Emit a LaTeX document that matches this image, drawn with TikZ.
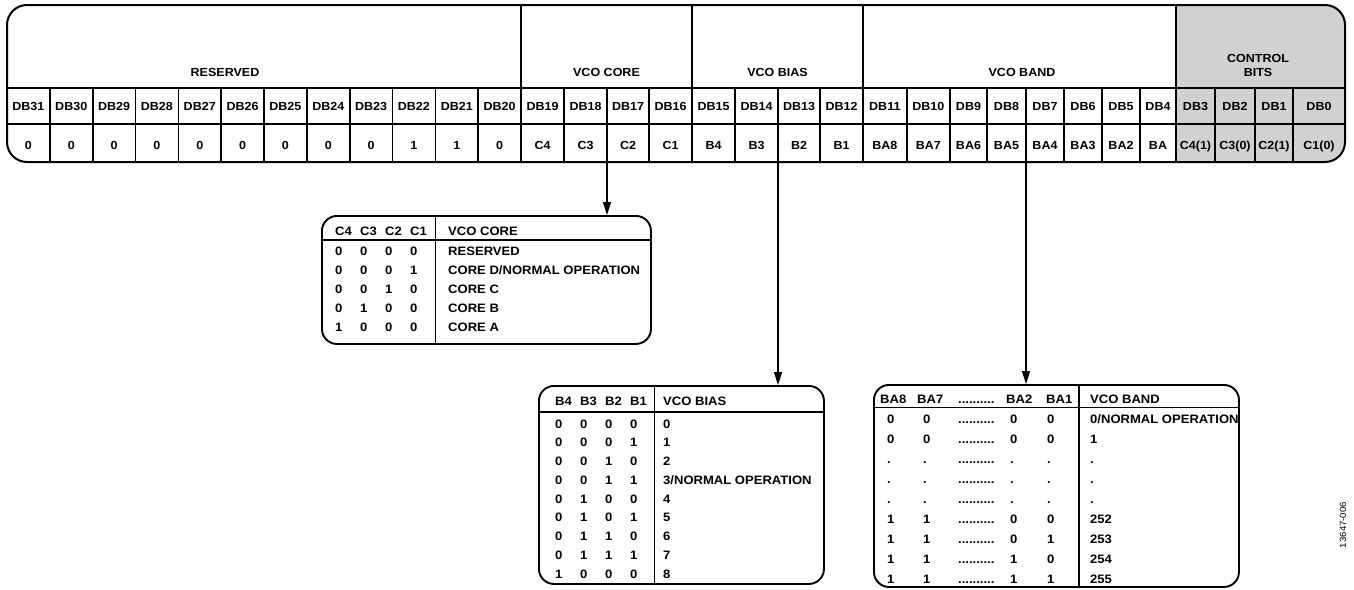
\documentclass[tikz,border=0pt]{standalone}
\usepackage{fontspec}
\setmainfont{Liberation Sans}[FakeStretch=1.07]
\usepackage{xcolor}
\usepackage{tikz}
\usetikzlibrary{arrows.meta}
\definecolor{ctrlgray}{HTML}{D1D1D1}
\tikzset{
  regline/.style={draw=black, line width=1.6pt},
  tabline/.style={draw=black, line width=1.6pt},
  bitlab/.style={font=\fontsize{11.7}{14}\selectfont\bfseries, inner sep=0pt, text height=8.4pt, text depth=0pt},
  rowlab/.style={bitlab, font=\fontsize{12.2}{14}\selectfont\bfseries, anchor=west},
  tabbox/.style={draw=black, line width=1.9pt, rounded corners=15pt, inner sep=0pt, anchor=north west},
  feed/.style={draw=black, line width=1.6pt, -{Triangle[length=13pt,width=8pt]}},
  docnum/.style={font=\fontsize{9}{10}\selectfont, inner sep=0pt, rotate=90},
}

\begin{document}
\begin{tikzpicture}[x=1pt,y=-1pt]
\useasboundingbox (0,0) rectangle (1354,589);

% register, DB31 ... DB0
\begin{scope}
\clip[rounded corners=20pt] (7,5) rectangle (1345,162);
\fill[ctrlgray] (1176,5) rectangle (1345,162);
\end{scope}
\draw[regline] (7,88) -- (1345,88);
\draw[regline] (7,124) -- (1345,124);
\foreach \xa/\xb/\b/\v in {7/49.8/31/0, 49.8/92.7/30/0, 92.7/135.5/29/0, 135.5/178.3/28/0,
    178.3/221.2/27/0, 221.2/264/26/0, 264/306.8/25/0, 306.8/349.7/24/0, 349.7/392.5/23/0,
    392.5/435.3/22/1, 435.3/478.2/21/1, 478.2/521/20/0,
    521/564/19/C4, 564/607/18/C3, 607/649/17/C2, 649/692/16/C1,
    692/735/15/B4, 735/778/14/B3, 778/820/13/B2, 820/863/12/B1,
    863/906.7/11/BA8, 906.7/950/10/BA7, 950/987/9/BA6, 987/1026/8/BA5,
    1026/1064/7/BA4, 1064/1102/6/BA3, 1102/1140/5/BA2, 1140/1176/4/BA,
    1176/1215/3/{C4(1)}, 1215/1255/2/{C3(0)}, 1255/1293/1/{C2(1)}, 1293/1345/0/{C1(0)}} {
  \ifnum\b<31 \draw[regline] (\xa,88) -- (\xa,162); \fi
  \node[bitlab] (db\b) at ({(\xa+\xb)/2},106) {DB\b};
  \node[bitlab] (bit\b) at ({(\xa+\xb)/2},145) {\v};
}
\foreach \x in {521,692,863,1176} \draw[regline] (\x,5) -- (\x,88);
\draw[regline, line width=2pt, rounded corners=20pt] (7,5) rectangle (1345,162);

\node[bitlab] (resv) at (225,72) {RESERVED};
\node[bitlab] (core) at (606.5,72) {VCO CORE};
\node[bitlab] (bias) at (777.5,72) {VCO BIAS};
\node[bitlab] (band) at (1022,72) {VCO BAND};
\node[bitlab] (ctrla) at (1258,58) {CONTROL};
\node[bitlab] (ctrlb) at (1258,72.5) {BITS};

% VCO CORE table
\node[tabbox, minimum width=329pt, minimum height=128pt] (coretab) at (321,215) {};
\draw[tabline] (321,240) -- (650,240);
\draw[tabline] (435.3,215) -- (435.3,343);
\foreach \h [count=\i] in {C4,C3,C2,C1}
  \node[rowlab] (corehd\i) at ({335+25*(\i-1)},231) {\h};
\node[rowlab] (corehd) at (448,231) {VCO CORE};
\foreach \a/\b/\c/\d/\t [count=\r] in {0/0/0/0/RESERVED, 0/0/0/1/{CORE D/NORMAL OPERATION},
    0/0/1/0/CORE C, 0/1/0/0/CORE B, 1/0/0/0/CORE A} {
  \node[rowlab] (core\r-a) at (335,{251.3+18.9*(\r-1)}) {\a};
  \node[rowlab] (core\r-b) at (360,{251.3+18.9*(\r-1)}) {\b};
  \node[rowlab] (core\r-c) at (385,{251.3+18.9*(\r-1)}) {\c};
  \node[rowlab] (core\r-d) at (410,{251.3+18.9*(\r-1)}) {\d};
  \node[rowlab] (core\r-t) at (448,{251.3+18.9*(\r-1)}) {\t};
}

% VCO BIAS table
\node[tabbox, minimum width=285pt, minimum height=198pt] (biastab) at (538,385) {};
\draw[tabline] (538,412) -- (823,412);
\draw[tabline] (654.5,385) -- (654.5,583);
\foreach \h [count=\i] in {B4,B3,B2,B1}
  \node[rowlab] (biashd\i) at ({555+25*(\i-1)},401.5) {\h};
\node[rowlab] (biashd) at (663,401.5) {VCO BIAS};
\foreach \a/\b/\c/\d/\t [count=\r] in {0/0/0/0/0, 0/0/0/1/1, 0/0/1/0/2, 0/0/1/1/{3/NORMAL OPERATION},
    0/1/0/0/4, 0/1/0/1/5, 0/1/1/0/6, 0/1/1/1/7, 1/0/0/0/8} {
  \node[rowlab] (bias\r-a) at (555,{424+18.75*(\r-1)}) {\a};
  \node[rowlab] (bias\r-b) at (580,{424+18.75*(\r-1)}) {\b};
  \node[rowlab] (bias\r-c) at (605,{424+18.75*(\r-1)}) {\c};
  \node[rowlab] (bias\r-d) at (630,{424+18.75*(\r-1)}) {\d};
  \node[rowlab] (bias\r-t) at (663,{424+18.75*(\r-1)}) {\t};
}

% VCO BAND table
\node[tabbox, minimum width=365pt, minimum height=202pt] (bandtab) at (873,384) {};
\draw[tabline] (873,407.5) -- (1238,407.5);
\draw[tabline] (1079,384) -- (1079,586);
\node[rowlab] (bandhd1) at (880,399) {BA8};
\node[rowlab] (bandhd2) at (917,399) {BA7};
\node[rowlab] (bandhd3) at (958,399) {..........};
\node[rowlab] (bandhd4) at (1006,399) {BA2};
\node[rowlab] (bandhd5) at (1046,399) {BA1};
\node[rowlab] (bandhd) at (1090,399) {VCO BAND};
\foreach \a/\b/\c/\d/\t [count=\r] in {0/0/0/0/{0/NORMAL OPERATION}, 0/0/0/0/1,
    ././././., ././././., ././././., 1/1/0/0/252, 1/1/0/1/253, 1/1/1/0/254, 1/1/1/1/255} {
  \node[rowlab] (band\r-a) at (887,{419.5+20*(\r-1)}) {\a};
  \node[rowlab] (band\r-b) at (923,{419.5+20*(\r-1)}) {\b};
  \node[rowlab] (band\r-e) at (958,{419.5+20*(\r-1)}) {..........};
  \node[rowlab] (band\r-c) at (1010,{419.5+20*(\r-1)}) {\c};
  \node[rowlab] (band\r-d) at (1047,{419.5+20*(\r-1)}) {\d};
  \node[rowlab] (band\r-t) at (1090,{419.5+20*(\r-1)}) {\t};
}

% feeds from the register
\coordinate (coretap) at (607,162);
\coordinate (biastap) at (778,162);
\coordinate (bandtap) at (1026,162);
\draw[feed] (coretap) -- (coretap |- coretab.north);
\draw[feed] (biastap) -- (biastap |- biastab.north);
\draw[feed] (bandtap) -- (bandtap |- bandtab.north);

\node[docnum] (docid) at (1343,525) {13647-006};
\end{tikzpicture}
\end{document}
